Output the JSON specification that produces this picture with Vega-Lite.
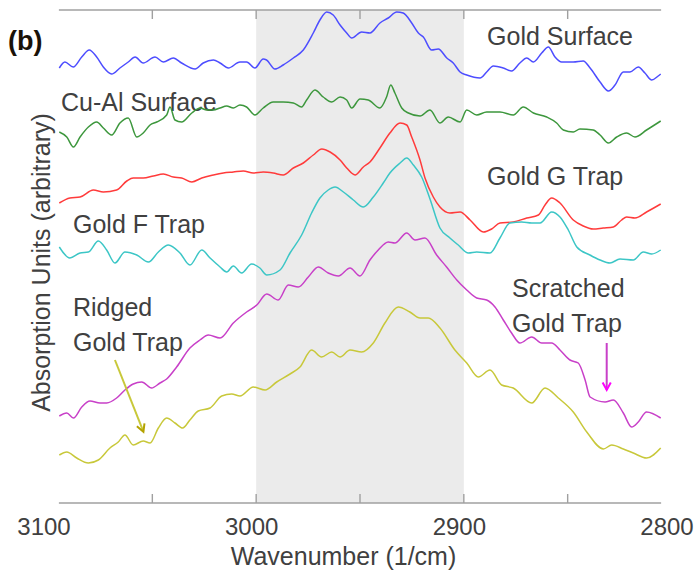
{
"$schema": "https://vega.github.io/schema/vega-lite/v6.json",
"width": 623, "height": 493,
"autosize": {"type": "none"},
"padding": {"left": 48.5, "top": 10, "right": 24.5, "bottom": 68},
"background": "white",
"config": {"view": {"stroke": null}, "font": "Liberation Sans"},
"datasets": {
"band": [{"w": 3000, "w2": 2900}],
"frame": [{"w": 3095, "w2": 2805}],
"ticks": [{"w": 3050}, {"w": 3000}, {"w": 2950}, {"w": 2900}, {"w": 2850}],
"labels": [
{"t": "Gold Surface", "w": 2888.8, "a": 4.58},
{"t": "Cu-Al Surface", "w": 3094.0, "a": 3.92},
{"t": "Gold G Trap", "w": 2888.8, "a": 3.18},
{"t": "Gold F Trap", "w": 3088.2, "a": 2.70},
{"t": "Ridged", "w": 3088.2, "a": 1.87},
{"t": "Gold Trap", "w": 3088.2, "a": 1.52},
{"t": "Scratched", "w": 2876.8, "a": 2.06},
{"t": "Gold Trap", "w": 2876.8, "a": 1.71}
],
"panel": [{"t": "(b)", "w": 3119.5, "a": 4.53}],
"arrows": [
{"s": "RG", "w": 3068.0, "a": 1.43, "w2": 3054.3, "a2": 0.713},
{"s": "SG", "w": 2831.2, "a": 1.60, "w2": 2831.2, "a2": 1.13}
],
"spectra": [
{"s":"GS","w":3094.8,"a":4.35},{"s":"GS","w":3092.1,"a":4.41},{"s":"GS","w":3088.1,"a":4.36},{"s":"GS","w":3084.0,"a":4.46},{"s":"GS","w":3080.4,"a":4.53},{"s":"GS","w":3076.8,"a":4.46},{"s":"GS","w":3073.6,"a":4.36},{"s":"GS","w":3069.6,"a":4.29},{"s":"GS","w":3065.6,"a":4.35},{"s":"GS","w":3061.6,"a":4.41},{"s":"GS","w":3058.3,"a":4.46},{"s":"GS","w":3054.4,"a":4.40},{"s":"GS","w":3048.7,"a":4.46},{"s":"GS","w":3044.7,"a":4.41},{"s":"GS","w":3039.9,"a":4.45},{"s":"GS","w":3035.9,"a":4.40},{"s":"GS","w":3029.4,"a":4.34},{"s":"GS","w":3025.5,"a":4.40},{"s":"GS","w":3020.6,"a":4.43},{"s":"GS","w":3017.4,"a":4.40},{"s":"GS","w":3013.4,"a":4.35},{"s":"GS","w":3007.8,"a":4.41},{"s":"GS","w":3004.6,"a":4.41},{"s":"GS","w":3000.6,"a":4.35},{"s":"GS","w":2996.6,"a":4.44},{"s":"GS","w":2995.0,"a":4.43},{"s":"GS","w":2991.0,"a":4.34},{"s":"GS","w":2987.0,"a":4.38},{"s":"GS","w":2982.1,"a":4.45},{"s":"GS","w":2977.3,"a":4.53},{"s":"GS","w":2972.5,"a":4.70},{"s":"GS","w":2969.3,"a":4.83},{"s":"GS","w":2966.0,"a":4.91},{"s":"GS","w":2962.9,"a":4.88},{"s":"GS","w":2959.6,"a":4.78},{"s":"GS","w":2956.4,"a":4.70},{"s":"GS","w":2954.0,"a":4.65},{"s":"GS","w":2949.2,"a":4.71},{"s":"GS","w":2945.2,"a":4.70},{"s":"GS","w":2940.4,"a":4.80},{"s":"GS","w":2936.4,"a":4.85},{"s":"GS","w":2932.3,"a":4.91},{"s":"GS","w":2929.2,"a":4.90},{"s":"GS","w":2925.1,"a":4.80},{"s":"GS","w":2921.9,"a":4.70},{"s":"GS","w":2919.5,"a":4.66},{"s":"GS","w":2915.5,"a":4.53},{"s":"GS","w":2912.3,"a":4.54},{"s":"GS","w":2908.2,"a":4.45},{"s":"GS","w":2905.1,"a":4.40},{"s":"GS","w":2901.8,"a":4.31},{"s":"GS","w":2898.6,"a":4.28},{"s":"GS","w":2892.2,"a":4.25},{"s":"GS","w":2889.0,"a":4.31},{"s":"GS","w":2885.8,"a":4.37},{"s":"GS","w":2881.0,"a":4.35},{"s":"GS","w":2877.0,"a":4.32},{"s":"GS","w":2873.0,"a":4.40},{"s":"GS","w":2869.7,"a":4.45},{"s":"GS","w":2866.5,"a":4.41},{"s":"GS","w":2862.5,"a":4.50},{"s":"GS","w":2859.3,"a":4.56},{"s":"GS","w":2856.1,"a":4.46},{"s":"GS","w":2852.9,"a":4.41},{"s":"GS","w":2847.3,"a":4.41},{"s":"GS","w":2842.5,"a":4.42},{"s":"GS","w":2839.2,"a":4.35},{"s":"GS","w":2834.4,"a":4.21},{"s":"GS","w":2830.4,"a":4.12},{"s":"GS","w":2827.2,"a":4.18},{"s":"GS","w":2823.2,"a":4.31},{"s":"GS","w":2820.0,"a":4.31},{"s":"GS","w":2816.0,"a":4.36},{"s":"GS","w":2812.8,"a":4.30},{"s":"GS","w":2809.5,"a":4.23},{"s":"GS","w":2806.4,"a":4.27},{"s":"GS","w":2805.2,"a":4.29},
{"s":"CA","w":3094.8,"a":3.71},{"s":"CA","w":3091.2,"a":3.66},{"s":"CA","w":3088.0,"a":3.56},{"s":"CA","w":3084.8,"a":3.66},{"s":"CA","w":3080.8,"a":3.76},{"s":"CA","w":3076.8,"a":3.81},{"s":"CA","w":3073.6,"a":3.75},{"s":"CA","w":3069.6,"a":3.68},{"s":"CA","w":3065.6,"a":3.80},{"s":"CA","w":3061.6,"a":3.85},{"s":"CA","w":3057.5,"a":3.66},{"s":"CA","w":3054.4,"a":3.70},{"s":"CA","w":3051.1,"a":3.78},{"s":"CA","w":3047.9,"a":3.81},{"s":"CA","w":3043.1,"a":3.88},{"s":"CA","w":3041.5,"a":3.96},{"s":"CA","w":3039.1,"a":3.83},{"s":"CA","w":3035.9,"a":3.81},{"s":"CA","w":3031.0,"a":3.90},{"s":"CA","w":3027.0,"a":3.95},{"s":"CA","w":3023.8,"a":3.93},{"s":"CA","w":3020.6,"a":3.93},{"s":"CA","w":3017.4,"a":3.95},{"s":"CA","w":3014.2,"a":3.97},{"s":"CA","w":3011.0,"a":3.95},{"s":"CA","w":3007.8,"a":3.98},{"s":"CA","w":3004.6,"a":3.96},{"s":"CA","w":3000.6,"a":3.88},{"s":"CA","w":2996.6,"a":3.95},{"s":"CA","w":2991.8,"a":4.01},{"s":"CA","w":2987.0,"a":4.01},{"s":"CA","w":2982.1,"a":4.00},{"s":"CA","w":2978.1,"a":3.96},{"s":"CA","w":2975.7,"a":4.03},{"s":"CA","w":2971.7,"a":4.13},{"s":"CA","w":2967.7,"a":4.06},{"s":"CA","w":2963.6,"a":4.01},{"s":"CA","w":2959.6,"a":4.06},{"s":"CA","w":2956.4,"a":4.03},{"s":"CA","w":2954.0,"a":3.95},{"s":"CA","w":2950.0,"a":4.04},{"s":"CA","w":2946.0,"a":4.03},{"s":"CA","w":2940.4,"a":3.95},{"s":"CA","w":2937.2,"a":4.06},{"s":"CA","w":2935.2,"a":4.18},{"s":"CA","w":2933.2,"a":4.10},{"s":"CA","w":2929.9,"a":3.95},{"s":"CA","w":2926.7,"a":3.90},{"s":"CA","w":2921.1,"a":3.87},{"s":"CA","w":2916.3,"a":3.93},{"s":"CA","w":2911.5,"a":3.80},{"s":"CA","w":2907.5,"a":3.86},{"s":"CA","w":2901.8,"a":3.81},{"s":"CA","w":2898.6,"a":3.93},{"s":"CA","w":2893.8,"a":3.88},{"s":"CA","w":2889.0,"a":3.91},{"s":"CA","w":2882.6,"a":3.91},{"s":"CA","w":2876.2,"a":3.88},{"s":"CA","w":2871.4,"a":3.96},{"s":"CA","w":2866.5,"a":3.90},{"s":"CA","w":2860.1,"a":3.86},{"s":"CA","w":2855.3,"a":3.80},{"s":"CA","w":2852.1,"a":3.73},{"s":"CA","w":2847.3,"a":3.71},{"s":"CA","w":2844.1,"a":3.74},{"s":"CA","w":2837.7,"a":3.73},{"s":"CA","w":2834.4,"a":3.68},{"s":"CA","w":2830.4,"a":3.60},{"s":"CA","w":2826.4,"a":3.66},{"s":"CA","w":2821.6,"a":3.70},{"s":"CA","w":2817.6,"a":3.66},{"s":"CA","w":2812.0,"a":3.73},{"s":"CA","w":2805.2,"a":3.82},
{"s":"GG","w":3094.8,"a":3.00},{"s":"GG","w":3089.7,"a":3.05},{"s":"GG","w":3084.8,"a":3.06},{"s":"GG","w":3078.4,"a":3.13},{"s":"GG","w":3073.6,"a":3.11},{"s":"GG","w":3067.2,"a":3.13},{"s":"GG","w":3062.3,"a":3.22},{"s":"GG","w":3059.2,"a":3.25},{"s":"GG","w":3054.4,"a":3.25},{"s":"GG","w":3049.5,"a":3.27},{"s":"GG","w":3044.7,"a":3.29},{"s":"GG","w":3039.9,"a":3.26},{"s":"GG","w":3035.9,"a":3.25},{"s":"GG","w":3031.0,"a":3.21},{"s":"GG","w":3026.2,"a":3.25},{"s":"GG","w":3020.6,"a":3.28},{"s":"GG","w":3015.8,"a":3.30},{"s":"GG","w":3011.0,"a":3.31},{"s":"GG","w":3006.2,"a":3.32},{"s":"GG","w":3001.4,"a":3.30},{"s":"GG","w":2996.6,"a":3.31},{"s":"GG","w":2991.8,"a":3.30},{"s":"GG","w":2987.0,"a":3.28},{"s":"GG","w":2982.1,"a":3.35},{"s":"GG","w":2977.3,"a":3.40},{"s":"GG","w":2972.5,"a":3.48},{"s":"GG","w":2968.4,"a":3.54},{"s":"GG","w":2964.4,"a":3.51},{"s":"GG","w":2959.6,"a":3.43},{"s":"GG","w":2956.4,"a":3.35},{"s":"GG","w":2952.4,"a":3.28},{"s":"GG","w":2948.4,"a":3.36},{"s":"GG","w":2945.2,"a":3.41},{"s":"GG","w":2940.4,"a":3.55},{"s":"GG","w":2935.6,"a":3.70},{"s":"GG","w":2930.7,"a":3.80},{"s":"GG","w":2927.5,"a":3.78},{"s":"GG","w":2925.1,"a":3.66},{"s":"GG","w":2921.1,"a":3.43},{"s":"GG","w":2918.7,"a":3.25},{"s":"GG","w":2914.7,"a":3.06},{"s":"GG","w":2911.5,"a":2.96},{"s":"GG","w":2906.7,"a":2.90},{"s":"GG","w":2901.8,"a":2.91},{"s":"GG","w":2897.0,"a":2.83},{"s":"GG","w":2890.6,"a":2.71},{"s":"GG","w":2886.6,"a":2.74},{"s":"GG","w":2882.6,"a":2.80},{"s":"GG","w":2876.2,"a":2.81},{"s":"GG","w":2869.7,"a":2.85},{"s":"GG","w":2864.1,"a":2.88},{"s":"GG","w":2860.9,"a":2.98},{"s":"GG","w":2857.7,"a":3.05},{"s":"GG","w":2853.7,"a":3.00},{"s":"GG","w":2847.3,"a":2.83},{"s":"GG","w":2842.5,"a":2.77},{"s":"GG","w":2837.7,"a":2.74},{"s":"GG","w":2832.9,"a":2.75},{"s":"GG","w":2828.0,"a":2.76},{"s":"GG","w":2824.0,"a":2.83},{"s":"GG","w":2821.6,"a":2.86},{"s":"GG","w":2817.6,"a":2.85},{"s":"GG","w":2812.0,"a":2.91},{"s":"GG","w":2805.2,"a":2.99},
{"s":"GF","w":3094.8,"a":2.56},{"s":"GF","w":3089.7,"a":2.45},{"s":"GF","w":3084.8,"a":2.50},{"s":"GF","w":3080.8,"a":2.51},{"s":"GF","w":3076.0,"a":2.62},{"s":"GF","w":3072.0,"a":2.53},{"s":"GF","w":3068.0,"a":2.40},{"s":"GF","w":3063.2,"a":2.51},{"s":"GF","w":3057.5,"a":2.48},{"s":"GF","w":3051.9,"a":2.41},{"s":"GF","w":3047.1,"a":2.51},{"s":"GF","w":3042.3,"a":2.58},{"s":"GF","w":3036.7,"a":2.50},{"s":"GF","w":3031.9,"a":2.38},{"s":"GF","w":3026.2,"a":2.53},{"s":"GF","w":3022.2,"a":2.45},{"s":"GF","w":3017.4,"a":2.36},{"s":"GF","w":3014.2,"a":2.31},{"s":"GF","w":3011.0,"a":2.37},{"s":"GF","w":3007.0,"a":2.30},{"s":"GF","w":3002.2,"a":2.39},{"s":"GF","w":2998.2,"a":2.35},{"s":"GF","w":2994.9,"a":2.28},{"s":"GF","w":2988.5,"a":2.33},{"s":"GF","w":2983.7,"a":2.50},{"s":"GF","w":2978.1,"a":2.68},{"s":"GF","w":2973.3,"a":2.90},{"s":"GF","w":2969.3,"a":3.05},{"s":"GF","w":2965.3,"a":3.13},{"s":"GF","w":2962.0,"a":3.16},{"s":"GF","w":2958.0,"a":3.11},{"s":"GF","w":2953.2,"a":3.03},{"s":"GF","w":2948.4,"a":2.96},{"s":"GF","w":2943.6,"a":3.06},{"s":"GF","w":2938.8,"a":3.20},{"s":"GF","w":2935.6,"a":3.30},{"s":"GF","w":2930.7,"a":3.40},{"s":"GF","w":2927.5,"a":3.45},{"s":"GF","w":2924.3,"a":3.38},{"s":"GF","w":2920.3,"a":3.26},{"s":"GF","w":2916.3,"a":3.04},{"s":"GF","w":2911.5,"a":2.75},{"s":"GF","w":2906.7,"a":2.65},{"s":"GF","w":2902.7,"a":2.58},{"s":"GF","w":2897.8,"a":2.50},{"s":"GF","w":2893.8,"a":2.51},{"s":"GF","w":2887.4,"a":2.50},{"s":"GF","w":2882.6,"a":2.65},{"s":"GF","w":2877.8,"a":2.80},{"s":"GF","w":2872.1,"a":2.81},{"s":"GF","w":2867.3,"a":2.80},{"s":"GF","w":2863.3,"a":2.80},{"s":"GF","w":2857.7,"a":2.91},{"s":"GF","w":2853.7,"a":2.86},{"s":"GF","w":2849.7,"a":2.73},{"s":"GF","w":2845.6,"a":2.56},{"s":"GF","w":2839.3,"a":2.48},{"s":"GF","w":2834.4,"a":2.43},{"s":"GF","w":2829.6,"a":2.40},{"s":"GF","w":2824.8,"a":2.44},{"s":"GF","w":2818.4,"a":2.43},{"s":"GF","w":2813.6,"a":2.51},{"s":"GF","w":2809.5,"a":2.49},{"s":"GF","w":2805.2,"a":2.53},
{"s":"SG","w":3094.8,"a":0.87},{"s":"SG","w":3091.2,"a":0.90},{"s":"SG","w":3088.0,"a":0.85},{"s":"SG","w":3084.0,"a":0.96},{"s":"SG","w":3080.0,"a":1.02},{"s":"SG","w":3075.2,"a":1.00},{"s":"SG","w":3072.0,"a":1.00},{"s":"SG","w":3067.2,"a":1.05},{"s":"SG","w":3063.2,"a":1.13},{"s":"SG","w":3059.2,"a":1.19},{"s":"SG","w":3055.1,"a":1.21},{"s":"SG","w":3050.3,"a":1.15},{"s":"SG","w":3046.3,"a":1.20},{"s":"SG","w":3043.1,"a":1.24},{"s":"SG","w":3038.3,"a":1.36},{"s":"SG","w":3031.9,"a":1.55},{"s":"SG","w":3027.1,"a":1.63},{"s":"SG","w":3023.0,"a":1.68},{"s":"SG","w":3017.4,"a":1.65},{"s":"SG","w":3011.0,"a":1.80},{"s":"SG","w":3004.6,"a":1.91},{"s":"SG","w":2999.7,"a":1.98},{"s":"SG","w":2994.9,"a":2.09},{"s":"SG","w":2989.4,"a":2.03},{"s":"SG","w":2984.5,"a":2.18},{"s":"SG","w":2979.7,"a":2.16},{"s":"SG","w":2974.9,"a":2.26},{"s":"SG","w":2970.1,"a":2.36},{"s":"SG","w":2965.3,"a":2.30},{"s":"SG","w":2960.4,"a":2.27},{"s":"SG","w":2954.8,"a":2.35},{"s":"SG","w":2950.0,"a":2.27},{"s":"SG","w":2945.2,"a":2.43},{"s":"SG","w":2941.2,"a":2.53},{"s":"SG","w":2936.4,"a":2.61},{"s":"SG","w":2933.2,"a":2.60},{"s":"SG","w":2927.5,"a":2.70},{"s":"SG","w":2923.5,"a":2.63},{"s":"SG","w":2918.7,"a":2.65},{"s":"SG","w":2913.1,"a":2.48},{"s":"SG","w":2908.3,"a":2.36},{"s":"SG","w":2903.4,"a":2.23},{"s":"SG","w":2898.6,"a":2.13},{"s":"SG","w":2893.8,"a":2.05},{"s":"SG","w":2889.0,"a":2.03},{"s":"SG","w":2885.0,"a":1.96},{"s":"SG","w":2881.0,"a":1.83},{"s":"SG","w":2877.0,"a":1.70},{"s":"SG","w":2873.0,"a":1.60},{"s":"SG","w":2867.3,"a":1.66},{"s":"SG","w":2862.5,"a":1.60},{"s":"SG","w":2857.7,"a":1.60},{"s":"SG","w":2853.7,"a":1.53},{"s":"SG","w":2848.9,"a":1.43},{"s":"SG","w":2844.9,"a":1.40},{"s":"SG","w":2841.6,"a":1.23},{"s":"SG","w":2839.2,"a":1.06},{"s":"SG","w":2832.0,"a":1.01},{"s":"SG","w":2828.0,"a":1.03},{"s":"SG","w":2823.2,"a":0.90},{"s":"SG","w":2819.2,"a":0.76},{"s":"SG","w":2816.0,"a":0.81},{"s":"SG","w":2812.0,"a":0.91},{"s":"SG","w":2805.2,"a":0.85},
{"s":"RG","w":3094.8,"a":0.48},{"s":"RG","w":3091.2,"a":0.51},{"s":"RG","w":3086.4,"a":0.45},{"s":"RG","w":3080.8,"a":0.40},{"s":"RG","w":3076.0,"a":0.43},{"s":"RG","w":3070.4,"a":0.55},{"s":"RG","w":3066.4,"a":0.61},{"s":"RG","w":3063.2,"a":0.68},{"s":"RG","w":3059.2,"a":0.58},{"s":"RG","w":3054.4,"a":0.62},{"s":"RG","w":3051.1,"a":0.60},{"s":"RG","w":3047.1,"a":0.75},{"s":"RG","w":3043.1,"a":0.85},{"s":"RG","w":3039.1,"a":0.80},{"s":"RG","w":3035.4,"a":0.75},{"s":"RG","w":3031.9,"a":0.83},{"s":"RG","w":3027.9,"a":0.92},{"s":"RG","w":3022.2,"a":0.95},{"s":"RG","w":3016.6,"a":1.07},{"s":"RG","w":3011.8,"a":1.09},{"s":"RG","w":3007.8,"a":1.07},{"s":"RG","w":3001.4,"a":1.16},{"s":"RG","w":2995.7,"a":1.13},{"s":"RG","w":2990.1,"a":1.21},{"s":"RG","w":2983.7,"a":1.29},{"s":"RG","w":2978.9,"a":1.36},{"s":"RG","w":2973.3,"a":1.53},{"s":"RG","w":2968.5,"a":1.46},{"s":"RG","w":2963.6,"a":1.51},{"s":"RG","w":2959.6,"a":1.46},{"s":"RG","w":2954.8,"a":1.53},{"s":"RG","w":2949.2,"a":1.51},{"s":"RG","w":2943.6,"a":1.60},{"s":"RG","w":2938.0,"a":1.80},{"s":"RG","w":2931.6,"a":1.96},{"s":"RG","w":2926.0,"a":1.91},{"s":"RG","w":2921.1,"a":1.85},{"s":"RG","w":2917.1,"a":1.85},{"s":"RG","w":2911.5,"a":1.75},{"s":"RG","w":2904.3,"a":1.53},{"s":"RG","w":2898.6,"a":1.40},{"s":"RG","w":2893.0,"a":1.26},{"s":"RG","w":2887.4,"a":1.33},{"s":"RG","w":2881.8,"a":1.18},{"s":"RG","w":2876.2,"a":1.15},{"s":"RG","w":2867.3,"a":1.00},{"s":"RG","w":2860.9,"a":1.15},{"s":"RG","w":2854.5,"a":1.05},{"s":"RG","w":2847.3,"a":0.91},{"s":"RG","w":2840.8,"a":0.71},{"s":"RG","w":2832.8,"a":0.54},{"s":"RG","w":2828.8,"a":0.58},{"s":"RG","w":2823.2,"a":0.54},{"s":"RG","w":2818.4,"a":0.50},{"s":"RG","w":2812.0,"a":0.45},{"s":"RG","w":2805.2,"a":0.55}
]
},
"layer": [
{
"data": {"name": "band"},
"mark": {"type": "rect", "color": "#ebebeb"},
"encoding": {
"x": {"field": "w", "type": "quantitative",
"scale": {"domain": [2800, 3100], "reverse": true, "nice": false, "zero": false},
"axis": {"title": "Wavenumber (1/cm)", "values": [3100, 3000, 2900, 2800], "format": "d", "labelFlush": false, "domain": false, "ticks": false, "grid": false,
"labelFontSize": 24, "labelColor": "#404040", "labelPadding": 12, "labelOffset": -5, "labelFont": "Liberation Sans",
"titleFontSize": 25, "titleFontWeight": "normal", "titleColor": "#404040", "titleFont": "Liberation Sans", "titlePadding": 5, "titleX": 294.5}},
"x2": {"field": "w2"}
}
},
{
"data": {"name": "frame"},
"mark": {"type": "rule", "color": "#a0a0a0", "strokeWidth": 1.6},
"encoding": {
"x": {"field": "w", "type": "quantitative"},
"x2": {"field": "w2"},
"y": {"datum": 0, "type": "quantitative",
"scale": {"domain": [0, 4.93], "nice": false, "zero": false},
"axis": {"title": "Absorption Units (arbitrary)", "domain": false, "ticks": false, "labels": false, "grid": false,
"titleFontSize": 25, "titleFontWeight": "normal", "titleColor": "#404040", "titleFont": "Liberation Sans", "titleX": 6, "titleY": 252}}
}
},
{
"data": {"name": "frame"},
"mark": {"type": "rule", "color": "#a0a0a0", "strokeWidth": 1.6},
"encoding": {
"x": {"field": "w", "type": "quantitative"},
"x2": {"field": "w2"},
"y": {"datum": 4.93, "type": "quantitative"}
}
},
{
"data": {"name": "ticks"},
"mark": {"type": "rule", "color": "#a0a0a0", "strokeWidth": 1.4},
"encoding": {
"x": {"field": "w", "type": "quantitative"},
"y": {"datum": 0, "type": "quantitative"},
"y2": {"datum": 0.09}
}
},
{
"data": {"name": "ticks"},
"mark": {"type": "rule", "color": "#a0a0a0", "strokeWidth": 1.4},
"encoding": {
"x": {"field": "w", "type": "quantitative"},
"y": {"datum": 4.93, "type": "quantitative"},
"y2": {"datum": 4.84}
}
},
{
"data": {"name": "labels"},
"mark": {"type": "text", "align": "left", "baseline": "alphabetic", "fontSize": 25, "color": "#404040", "font": "Liberation Sans"},
"encoding": {
"x": {"field": "w", "type": "quantitative"},
"y": {"field": "a", "type": "quantitative"},
"text": {"field": "t"}
}
},
{
"data": {"name": "panel"},
"mark": {"type": "text", "align": "left", "baseline": "alphabetic", "fontSize": 27, "fontWeight": "bold", "color": "#1a1208", "font": "Liberation Sans"},
"encoding": {
"x": {"field": "w", "type": "quantitative"},
"y": {"field": "a", "type": "quantitative"},
"text": {"field": "t"}
}
},
{
"data": {"name": "spectra"},
"mark": {"type": "line", "strokeWidth": 1.5, "interpolate": "monotone"},
"encoding": {
"x": {"field": "w", "type": "quantitative"},
"y": {"field": "a", "type": "quantitative"},
"color": {"field": "s", "type": "nominal", "legend": null,
"scale": {"domain": ["GS", "CA", "GG", "GF", "SG", "RG"], "range": ["#4d4dff", "#3d973d", "#ff3b3b", "#3cc6c6", "#c840c8", "#c8c83a"]}}
}
},
{
"data": {"name": "arrows"},
"mark": {"type": "rule", "strokeWidth": 2},
"encoding": {
"x": {"field": "w", "type": "quantitative"},
"y": {"field": "a", "type": "quantitative"},
"x2": {"field": "w2"},
"y2": {"field": "a2"},
"color": {"field": "s", "type": "nominal", "legend": null,
"scale": {"domain": ["RG", "SG"], "range": ["#b4a200", "#ff00ff"]}}
}
},
{
"data": {"name": "arrows"},
"transform": [{"filter": "datum.s == 'RG'"}],
"mark": {"type": "point", "shape": "M-0.55,-1L0,0L0.55,-1", "filled": false, "size": 220, "strokeWidth": 2, "angle": -21.5, "color": "#b4a200", "opacity": 1},
"encoding": {
"x": {"field": "w2", "type": "quantitative"},
"y": {"field": "a2", "type": "quantitative"}
}
},
{
"data": {"name": "arrows"},
"transform": [{"filter": "datum.s == 'SG'"}],
"mark": {"type": "point", "shape": "M-0.55,-1L0,0L0.55,-1", "filled": false, "size": 220, "strokeWidth": 2, "color": "#ff00ff", "opacity": 1},
"encoding": {
"x": {"field": "w2", "type": "quantitative"},
"y": {"field": "a2", "type": "quantitative"}
}
}
]
}
